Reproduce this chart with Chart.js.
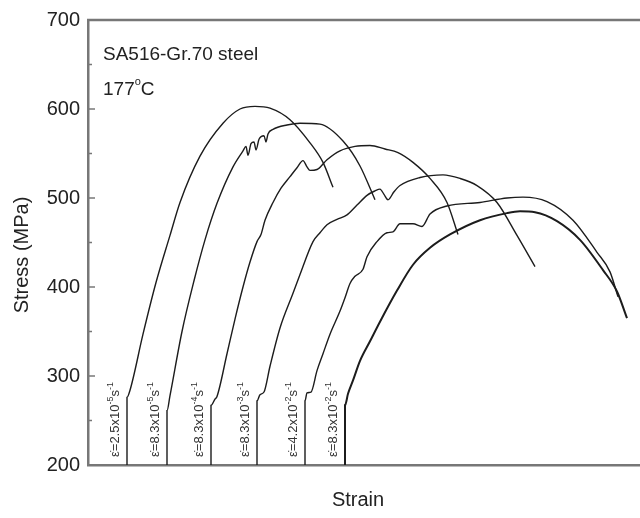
<!DOCTYPE html>
<html>
<head>
<meta charset="utf-8">
<script src="https://cdn.jsdelivr.net/npm/chart.js@4.4.1/dist/chart.umd.min.js"></script>
<style>
  html, body { margin: 0; padding: 0; background: #fff; }
</style>
</head>
<body>
<canvas id="stressChart" width="640" height="518"></canvas>
<script>
// tensile curves at 177 C, one per strain rate
const strain1 = [0.039, 0.039, 0.042, 0.055, 0.068, 0.082, 0.092, 0.112, 0.135, 0.152, 0.167, 0.182, 0.202, 0.222, 0.235, 0.245];
const stress1 = [200, 276, 284, 347, 405, 458, 495, 547, 584, 600, 603, 601, 588, 562, 540, 512];

const strain2 = [0.079, 0.079, 0.082, 0.094, 0.106, 0.117, 0.129, 0.145, 0.155, 0.158, 0.160, 0.163, 0.166, 0.168, 0.171, 0.176, 0.178, 0.180, 0.185, 0.199, 0.212, 0.232, 0.255, 0.272, 0.287];
const stress2 = [200, 261, 278, 350, 407, 453, 494, 535, 553, 558, 548, 561, 563, 554, 566, 570, 563, 572, 577, 582, 584, 583, 564, 536, 498];

const strain3 = [0.123, 0.123, 0.127, 0.129, 0.139, 0.147, 0.155, 0.162, 0.169, 0.173, 0.177, 0.185, 0.193, 0.202, 0.209, 0.215, 0.219, 0.222, 0.229, 0.239, 0.252, 0.267, 0.282, 0.297, 0.310, 0.325, 0.342, 0.359, 0.370];
const stress3 = [200, 267, 274, 277, 325, 364, 400, 428, 451, 459, 475, 495, 511, 524, 534, 542, 535, 531, 532, 543, 553, 558, 559, 555, 551, 540, 522, 495, 459];

const strain4 = [0.169, 0.169, 0.172, 0.176, 0.182, 0.192, 0.205, 0.212, 0.225, 0.232, 0.239, 0.249, 0.259, 0.269, 0.279, 0.287, 0.292, 0.296, 0.300, 0.306, 0.312, 0.332, 0.355, 0.372, 0.389, 0.409, 0.429, 0.447];
const stress4 = [200, 272, 279, 282, 311, 354, 393, 414, 451, 461, 470, 476, 481, 492, 503, 508, 510, 504, 498, 507, 514, 523, 526, 522, 514, 495, 458, 423];

const strain5 = [0.217, 0.217, 0.219, 0.223, 0.229, 0.235, 0.242, 0.252, 0.257, 0.262, 0.267, 0.275, 0.279, 0.289, 0.299, 0.305, 0.312, 0.325, 0.334, 0.342, 0.359, 0.392, 0.419, 0.435, 0.459, 0.485, 0.509, 0.522, 0.530];
const stress5 = [200, 272, 281, 282, 306, 325, 347, 373, 388, 404, 412, 420, 434, 451, 461, 462, 471, 471, 468, 482, 491, 495, 500, 501, 496, 475, 439, 417, 389];

const strain6 = [0.257, 0.257, 0.260, 0.265, 0.272, 0.282, 0.292, 0.309, 0.325, 0.342, 0.362, 0.392, 0.419, 0.432, 0.447, 0.469, 0.492, 0.515, 0.529, 0.539];
const stress6 = [200, 267, 280, 295, 317, 339, 361, 396, 425, 444, 459, 475, 483, 485, 484, 474, 453, 419, 395, 365];

const rateMantissa = ['2.5', '8.3', '8.3', '8.3', '4.2', '8.3'];
const rateExponent = ['-5', '-5', '-4', '-3', '-2', '-2'];

const yTicks = [200, 300, 400, 500, 600, 700];

const curves = [
  [strain1, stress1], [strain2, stress2], [strain3, stress3],
  [strain4, stress4], [strain5, stress5], [strain6, stress6]
];

const FONT = '"Liberation Sans", Arial, sans-serif';
const INK = '#222';

function drawRateLabel(ctx, x, y, mantissa, exponent) {
  const parts = [
    ['\u03B5\u0307=' + mantissa + 'x10', false],
    [exponent, true],
    ['s', false],
    ['-1', true]
  ];
  ctx.save();
  ctx.translate(x, y);
  ctx.rotate(-Math.PI / 2);
  ctx.fillStyle = '#333';
  ctx.textAlign = 'left';
  ctx.textBaseline = 'alphabetic';
  let cx = 0;
  for (const [txt, sup] of parts) {
    ctx.font = (sup ? '9px ' : '13px ') + FONT;
    ctx.fillText(txt, cx, sup ? -6 : 0);
    cx += ctx.measureText(txt).width;
  }
  ctx.restore();
}

const frameAndText = {
  id: 'frameAndText',
  afterDraw(chart) {
    const { ctx, chartArea, scales } = chart;
    const y = scales.y;
    const x = scales.x;

    // top frame line running off the right edge
    ctx.save();
    ctx.strokeStyle = '#777';
    ctx.lineWidth = 2.5;
    ctx.beginPath();
    ctx.moveTo(chartArea.left - 1, chartArea.top);
    ctx.lineTo(chart.width, chartArea.top);
    ctx.stroke();

    // inward ticks on the stress axis, minor every 50
    ctx.lineWidth = 1.5;
    for (let v = 200; v <= 700; v += 50) {
      const py = y.getPixelForValue(v);
      const len = v % 100 === 0 ? 7 : 4;
      ctx.beginPath();
      ctx.moveTo(chartArea.left, py);
      ctx.lineTo(chartArea.left + len, py);
      ctx.stroke();
    }

    // axis titles
    ctx.fillStyle = INK;
    ctx.font = '20px ' + FONT;
    ctx.textAlign = 'center';
    ctx.textBaseline = 'middle';
    ctx.fillText('Strain', (chartArea.left + chartArea.right) / 2 - 6, 500);
    ctx.save();
    ctx.translate(22, 255);
    ctx.rotate(-Math.PI / 2);
    ctx.fillText('Stress (MPa)', 0, 0);
    ctx.restore();

    // material note
    ctx.textAlign = 'left';
    ctx.textBaseline = 'alphabetic';
    ctx.font = '19px ' + FONT;
    ctx.fillText('SA516-Gr.70 steel', 103, 60);
    ctx.fillText('177', 103, 95);
    const w = ctx.measureText('177').width;
    ctx.font = '11px ' + FONT;
    ctx.fillText('o', 103 + w, 85);
    const wo = ctx.measureText('o').width;
    ctx.font = '19px ' + FONT;
    ctx.fillText('C', 103 + w + wo, 95);
    ctx.restore();

    // strain-rate labels beside each curve's elastic rise
    curves.forEach(([s], i) => {
      const px = x.getPixelForValue(s[0]) - 8;
      drawRateLabel(ctx, px, y.bottom - 8, rateMantissa[i], rateExponent[i]);
    });
  }
};

new Chart(document.getElementById('stressChart'), {
  type: 'line',
  data: {
    datasets: curves.map(([s, t], i) => ({
      data: s.map((v, j) => ({ x: v, y: t[j] })),
      borderColor: '#1c1c1c',
      borderWidth: i === 5 ? 2 : 1.4,
      pointRadius: 0,
      cubicInterpolationMode: 'monotone',
      fill: false
    }))
  },
  options: {
    responsive: false,
    animation: false,
    layout: { padding: { top: 17, right: 0, left: 0, bottom: 0 } },
    plugins: { legend: { display: false }, tooltip: { enabled: false } },
    scales: {
      x: {
        type: 'linear',
        min: 0,
        max: 0.552,
        ticks: { display: false },
        grid: { display: false, drawTicks: false },
        border: { color: '#777', width: 2.5 },
        afterFit(scale) { scale.height = 53; }
      },
      y: {
        min: 200,
        max: 700,
        afterBuildTicks(scale) { scale.ticks = yTicks.map(v => ({ value: v })); },
        ticks: { color: INK, font: { family: FONT, size: 20 }, padding: 8 },
        grid: { display: false, drawTicks: false },
        border: { color: '#777', width: 2.5 },
        afterFit(scale) { scale.width = 88; }
      }
    }
  },
  plugins: [frameAndText]
});
</script>
</body>
</html>
